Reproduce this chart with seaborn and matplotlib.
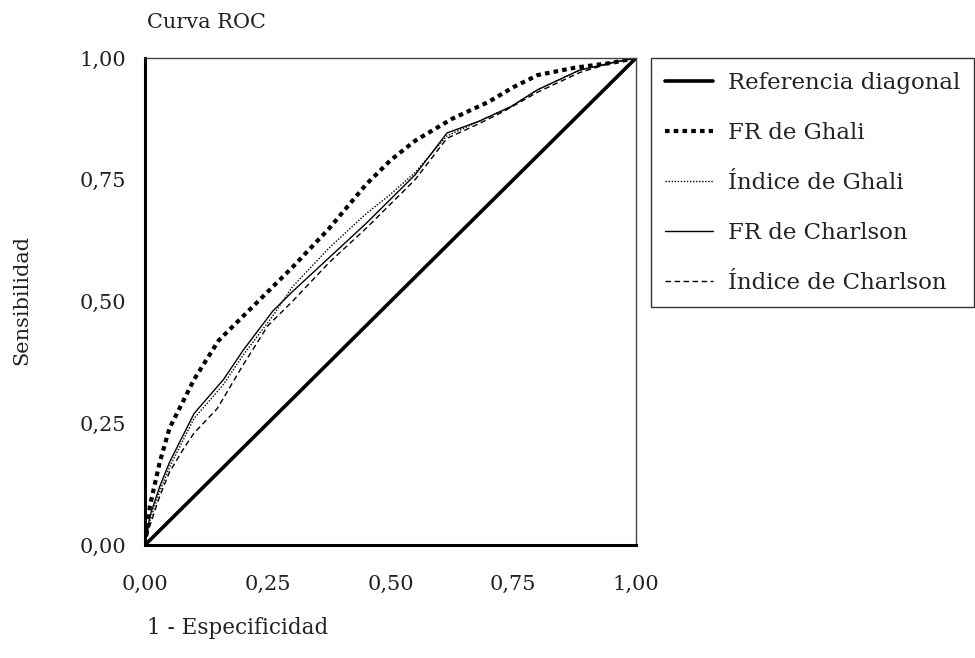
import matplotlib
matplotlib.use("Agg")
import matplotlib.pyplot as plt
import seaborn as sns
import pandas as pd

# ===== DATA =====
x_diag = [0.0, 1.0]
y_diag = [0.0, 1.0]

x_fr_ghali = [0, 0.01, 0.03, 0.05, 0.08, 0.10, 0.15, 0.20, 0.25, 0.30, 0.375,
              0.45, 0.50, 0.55, 0.625, 0.70, 0.75, 0.80, 0.875, 0.95, 1.0]
y_fr_ghali = [0, 0.08, 0.17, 0.24, 0.30, 0.34, 0.42, 0.47, 0.52, 0.57, 0.65,
              0.74, 0.79, 0.83, 0.875, 0.91, 0.94, 0.965, 0.98, 0.99, 1.0]

x_idx_ghali = [0, 0.01, 0.03, 0.05, 0.08, 0.10, 0.16, 0.20, 0.26, 0.30, 0.375,
               0.45, 0.50, 0.55, 0.615, 0.68, 0.745, 0.80, 0.885, 0.95, 1.0]
y_idx_ghali = [0, 0.05, 0.11, 0.16, 0.22, 0.26, 0.33, 0.39, 0.47, 0.53, 0.61,
               0.68, 0.72, 0.765, 0.84, 0.87, 0.90, 0.935, 0.975, 0.99, 1.0]

x_fr_charlson = [0, 0.01, 0.03, 0.05, 0.08, 0.10, 0.16, 0.20, 0.26, 0.30, 0.375,
                 0.45, 0.50, 0.55, 0.615, 0.68, 0.745, 0.80, 0.885, 0.95, 1.0]
y_fr_charlson = [0, 0.06, 0.12, 0.17, 0.23, 0.27, 0.34, 0.40, 0.48, 0.52, 0.59,
                 0.66, 0.71, 0.76, 0.846, 0.87, 0.90, 0.935, 0.975, 0.99, 1.0]

x_idx_charlson = [0, 0.01, 0.03, 0.05, 0.08, 0.10, 0.147, 0.20, 0.25, 0.30, 0.375,
                  0.45, 0.50, 0.55, 0.615, 0.68, 0.73, 0.80, 0.885, 0.95, 1.0]
y_idx_charlson = [0, 0.04, 0.10, 0.15, 0.20, 0.23, 0.28, 0.37, 0.45, 0.50, 0.58,
                  0.65, 0.70, 0.75, 0.835, 0.865, 0.89, 0.93, 0.97, 0.99, 1.0]

ticks = [0.0, 0.25, 0.5, 0.75, 1.0]
tick_labels = ["0,00", "0,25", "0,50", "0,75", "1,00"]

sns.set_style("white")
plt.rcParams["font.family"] = ["DejaVu Serif"]
TXT = "#222222"

fig = plt.figure(figsize=(9.75, 6.58), dpi=100)
ax = fig.add_axes([145 / 975, 113 / 658, 491 / 975, 487 / 658])

series = [
    ("Referencia diagonal", x_diag, y_diag, dict(lw=2.6, linestyle="-")),
    ("FR de Ghali", x_fr_ghali, y_fr_ghali, dict(lw=3.0, linestyle=(0, (1.1, 1.0)))),
    ("Índice de Ghali", x_idx_ghali, y_idx_ghali, dict(lw=1.0, linestyle=(0, (1, 1.2)))),
    ("FR de Charlson", x_fr_charlson, y_fr_charlson, dict(lw=1.0, linestyle="-")),
    ("Índice de Charlson", x_idx_charlson, y_idx_charlson, dict(lw=1.0, linestyle=(0, (4, 2.5)))),
]

for label, xs, ys, style in series:
    df = pd.DataFrame({"x": xs, "y": ys})
    sns.lineplot(data=df, x="x", y="y", ax=ax, color="black", sort=False,
                 estimator=None, label=label, **style)

ax.set_xlim(0, 1)
ax.set_ylim(0, 1)
ax.set_xticks(ticks)
ax.set_xticklabels(tick_labels)
ax.set_yticks(ticks)
ax.set_yticklabels(tick_labels)
ax.tick_params(axis="both", direction="inout", length=3, width=3, color="#222222",
               labelsize=15, labelcolor=TXT)
ax.tick_params(axis="x", pad=20)
ax.tick_params(axis="y", pad=12)
ax.set_xlabel("")
ax.set_ylabel("")

for side in ["left", "bottom"]:
    ax.spines[side].set_linewidth(2.2)
    ax.spines[side].set_color("black")
for side in ["top", "right"]:
    ax.spines[side].set_linewidth(1.0)
    ax.spines[side].set_color("#444444")

leg = ax.legend(loc="upper left", bbox_to_anchor=(651 / 975, 600 / 658),
                bbox_transform=fig.transFigure, borderaxespad=0, frameon=True,
                fancybox=False, edgecolor="black", fontsize=16.5,
                handlelength=2.1, handletextpad=0.65, labelspacing=1.22,
                borderpad=0.6)
leg.get_frame().set_linewidth(1.0)
for t in leg.get_texts():
    t.set_color(TXT)

fig.text(147 / 975, 1 - 22 / 658, "Curva ROC", fontsize=15, va="center", ha="left", color=TXT)
fig.text(147 / 975, 1 - 628 / 658, "1 - Especificidad", fontsize=15.5, va="center", ha="left", color=TXT)
fig.text(22 / 975, 1 - 300 / 658, "Sensibilidad", fontsize=15, va="center",
         ha="center", rotation=90, color=TXT)

plt.savefig("out.png", dpi=100)
plt.close()
